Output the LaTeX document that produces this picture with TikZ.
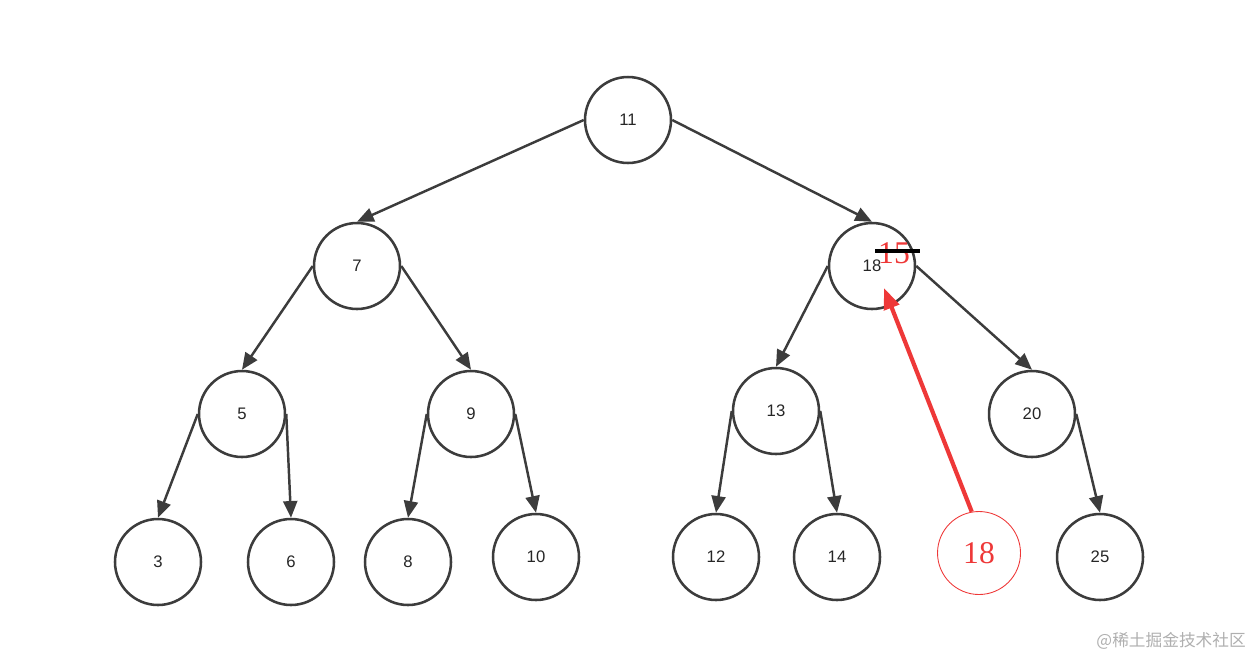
\documentclass[tikz,border=0pt]{standalone}
\usepackage{fontspec}
\setmainfont{Liberation Sans}
\newfontfamily\numserif{Liberation Serif}
\newfontfamily\cjk{Noto Sans CJK SC}
\usepackage{tikz}
\usetikzlibrary{arrows.meta}
\definecolor{trazo}{RGB}{60,60,60}
\definecolor{marca}{RGB}{238,56,56}
\definecolor{sello}{RGB}{175,175,175}

\begin{document}
\begin{tikzpicture}[x=0.02cm, y=-0.02cm,
  nodo/.style={circle, draw=trazo, line width=1.45pt, minimum size=1.72cm,
    inner sep=0pt, font=\fontsize{9.5}{11}\selectfont, text=black!85},
  arista/.style={draw=trazo, line width=1.4pt,
    -{Triangle[length=9.5pt, width=8pt]}},
  nuevo/.style={circle, draw=marca, line width=0.5pt, minimum size=1.66cm,
    inner sep=0pt, font=\numserif\fontsize{18}{20}\selectfont, text=marca},
]
\useasboundingbox (0,0) rectangle (1256,660);
% nodos del arbol
\foreach \n/\x/\y in {11/628/120, 7/357/266, 18/872/266, 5/242/414, 9/471/414,
    13/776/411, 20/1032/414, 3/158/562, 6/291/562, 8/408/562, 10/536/557,
    12/716/557, 14/837/557, 25/1100/557}
  \node[nodo] (n\n) at (\x,\y) {\n};
% aristas padre -> hijo
\foreach \p/\h in {11/7, 7/5, 5/3, 9/8, 18/13, 13/12}
  \draw[arista] (n\p.west) -- (n\h.north);
\foreach \p/\h in {11/18, 7/9, 5/6, 9/10, 18/20, 13/14, 20/25}
  \draw[arista] (n\p.east) -- (n\h.north);
% valor sustituido
\node[font=\numserif\fontsize{18}{20}\selectfont, text=marca] (viejo) at (894,253) {15};
\coordinate (tachaA) at (875,251);
\coordinate (tachaB) at (920,251);
\draw[line width=2pt, black] (tachaA) -- (tachaB);
\node[nuevo] (n18b) at (979,553) {18};
\coordinate (punta) at (884,288);
\draw[marca, line width=2.4pt, -{Triangle[length=12pt, width=9pt]}]
  (n18b.100) -- (punta);
% sello
\node[font=\cjk\fontsize{9.5}{11}\selectfont, text=sello, anchor=east] (sello)
  at (1252,641) {@稀土掘金技术社区};
\end{tikzpicture}
\end{document}
